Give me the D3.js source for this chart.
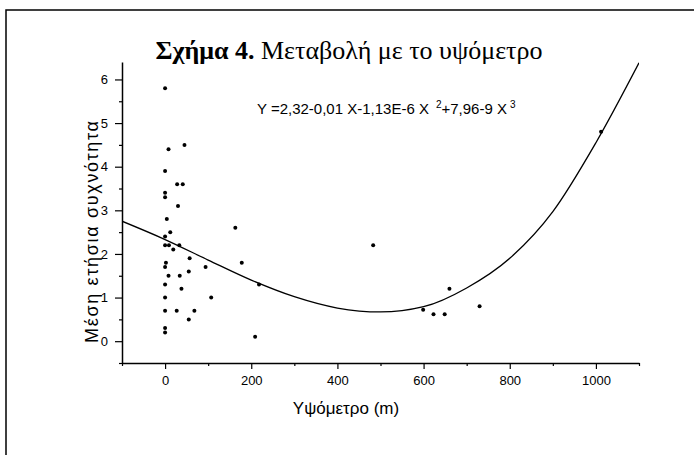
<!DOCTYPE html>
<html><head><meta charset="utf-8">
<script src="https://cdn.jsdelivr.net/npm/d3@7"></script>
<style>body{margin:0;background:#fff}svg{display:block}</style>
</head><body>
<svg id="c" width="694" height="455"></svg>
<script>
const elevation = [0,45,8,0,28,41,0,0,30,4,12,0,0,9,33,19,57,2,0,94,55,8,34,0,38,0,107,0,27,68,55,0,0,163,178,218,209,483,599,623,649,660,730,1012];
const frequency = [5.8,4.5,4.4,3.9,3.6,3.6,3.4,3.3,3.1,2.8,2.5,2.4,2.2,2.2,2.2,2.1,1.9,1.8,1.7,1.7,1.6,1.5,1.5,1.3,1.2,1.0,1.0,0.7,0.7,0.7,0.5,0.3,0.2,2.6,1.8,1.3,0.1,2.2,0.72,0.62,0.62,1.2,0.8,4.8];
const fitX = [-100,0,100,200,300,400,500,600,700,800,900,1000,1100];
const fitY = [2.75,2.33,1.86,1.40,1.02,0.76,0.67,0.79,1.22,1.90,2.97,4.55,6.38];
const xTicks = [0,200,400,600,800,1000];
const yTicks = [0,1,2,3,4,5,6];
const titleBold = "Σχήμα 4.";
const titleRest = " Μεταβολή με το υψόμετρο";
const equation = "Y =2,32-0,01 X-1,13E-6 X";
const xLabel = "Υψόμετρο (m)";
const yLabel = "Μέση ετήσια συχνότητα";

const svg = d3.select("#c");
const L=122,R=639,T=62,B=363;
const x = d3.scaleLinear().domain([-100,1100]).range([L,R]);
const y = d3.scaleLinear().domain([-0.5,6.4]).range([B,T]);

svg.append("path").attr("d","M6,455V10H694").attr("fill","none").attr("stroke","#000").attr("stroke-width",1.5);

const t = svg.append("text").attr("x",349).attr("y",59).attr("text-anchor","middle")
  .attr("font-family","Liberation Serif, Times New Roman, serif").attr("font-size",26);
t.append("tspan").attr("font-weight","bold").text(titleBold);
t.append("tspan").text(titleRest);

const af = "Liberation Sans, Arial, sans-serif";
// x axis
const xa = svg.append("g").attr("transform",`translate(0,${B})`)
  .call(d3.axisBottom(x).tickValues(xTicks).tickSize(6).tickSizeOuter(0).tickFormat(d3.format("d")));
xa.append("g").call(d3.axisBottom(x).tickValues(d3.range(-100,1101,200)).tickSize(3).tickSizeOuter(0).tickFormat(""))
  .select(".domain").remove();
xa.selectAll("text").attr("font-family",af).attr("font-size",13).attr("fill","#000").attr("y",13).attr("dy","0.71em");
xa.selectAll("line").attr("stroke","#000").attr("stroke-width",1.2);
xa.selectAll(".domain").attr("stroke","#000").attr("stroke-width",1.5);
// y axis
const ya = svg.append("g").attr("transform",`translate(${L},0)`)
  .call(d3.axisLeft(y).tickValues(yTicks).tickSize(7).tickSizeOuter(0).tickFormat(d3.format("d")));
ya.append("g").call(d3.axisLeft(y).tickValues(d3.range(-0.5,6.01,1)).tickSize(3).tickSizeOuter(0).tickFormat(""))
  .select(".domain").remove();
ya.selectAll("text").attr("font-family",af).attr("font-size",13).attr("fill","#000").attr("x",-14);
ya.selectAll("line").attr("stroke","#000").attr("stroke-width",1.2);
ya.selectAll(".domain").attr("stroke","#000").attr("stroke-width",1.5);

svg.append("text").attr("x",346).attr("y",414).attr("text-anchor","middle")
  .attr("font-family",af).attr("font-size",17).text(xLabel);
svg.append("text").attr("transform",`translate(98,232) rotate(-90)`).attr("text-anchor","middle")
  .attr("font-family",af).attr("font-size",18).attr("textLength",222).attr("lengthAdjust","spacing").text(yLabel);

svg.append("clipPath").attr("id","pc").append("rect").attr("x",L).attr("y",T).attr("width",R-L).attr("height",B-T);
const line = d3.line().x(d=>x(d[0])).y(d=>y(d[1])).curve(d3.curveMonotoneX);
svg.append("path").attr("clip-path","url(#pc)").attr("d",line(fitX.map((v,i)=>[v,fitY[i]])))
  .attr("fill","none").attr("stroke","#000").attr("stroke-width",1.3);

svg.append("g").selectAll("circle").data(elevation.map((v,i)=>[v,frequency[i]])).join("circle")
  .attr("cx",d=>x(d[0])).attr("cy",d=>y(d[1])).attr("r",2).attr("fill","#000");

const eq = svg.append("text").attr("x",257).attr("y",114).attr("font-family",af).attr("font-size",15);
eq.append("tspan").text(equation);
eq.append("tspan").attr("dx",7).attr("dy",-6).attr("font-size",10).text("2");
eq.append("tspan").attr("dy",6).text("+7,96-9 X");
eq.append("tspan").attr("dx",3).attr("dy",-6).attr("font-size",10).text("3");
</script>
</body></html>
